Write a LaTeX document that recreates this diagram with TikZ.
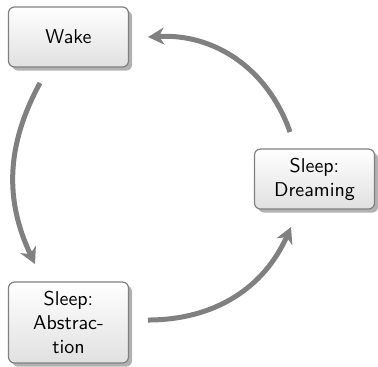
\documentclass[tikz,border=0pt]{standalone}
\usetikzlibrary{shadows,arrows.meta}
\begin{document}
\begin{tikzpicture}[x=0.5pt,y=-0.5pt,
  stagebox/.style={rectangle, rounded corners=3pt, draw=black!50, line width=0.6pt,
    top color=white, bottom color=black!12,
    drop shadow={shadow xshift=1.8pt, shadow yshift=-1.8pt, fill=black!30, opacity=1},
    minimum width=60pt, minimum height=30pt, align=center, font=\sffamily,
    inner sep=2pt},
  cyclearrow/.style={draw=black!50, line width=2.5pt,
    -{Stealth[length=8pt,width=8.5pt,inset=2.5pt]}}]
\useasboundingbox (0,0) rectangle (378,366);
\node[stagebox] (wake) at (68.5,37) {Wake};
\node[stagebox] (dream) at (314.5,179) {Sleep:\\Dreaming};
\node[stagebox, minimum height=40.5pt] (abst) at (68.5,322.5) {Sleep:\\Abstrac-\\tion};
\coordinate (a1s) at (290,132);
\coordinate (a1e) at (148,37);
\coordinate (a2s) at (40,83);
\coordinate (a2e) at (35,264);
\coordinate (a3s) at (148,320);
\coordinate (a3e) at (291,227);
\draw[cyclearrow] (a1s) to[bend right=37] (a1e);
\draw[cyclearrow] (a2s) to[bend right=27] (a2e);
\draw[cyclearrow] (a3s) to[bend right=33] (a3e);
\end{tikzpicture}
\end{document}
